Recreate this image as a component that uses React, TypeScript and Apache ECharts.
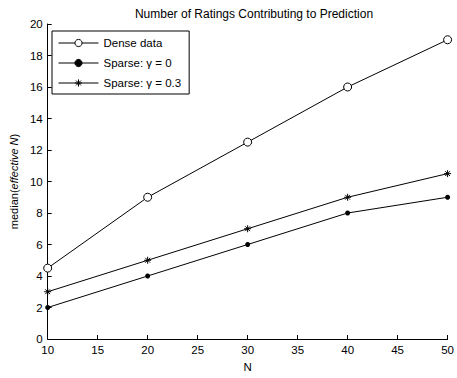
import React, { useEffect, useRef } from "react";
import * as echarts from "echarts";

const xValues = [10, 20, 30, 40, 50];
const denseData = [4.5, 9, 12.5, 16, 19];
const sparse0Data = [2, 4, 6, 8, 9];
const sparse03Data = [3, 5, 7, 9, 10.5];
const seriesNames = ["Dense data", "Sparse: γ = 0", "Sparse: γ = 0.3"];
const titleText = "Number of Ratings Contributing to Prediction";

const asterisk =
  "path://M5 0 L5 10 M0 5 L10 5 M1.6 1.6 L8.4 8.4 M8.4 1.6 L1.6 8.4";

export default function App() {
  const ref = useRef<HTMLDivElement>(null);
  useEffect(() => {
    if (!ref.current) return;
    const chart = echarts.init(ref.current, null, { renderer: "svg" });
    const font = "Liberation Sans, Arial, sans-serif";
    const pairs = (ys: number[]) => xValues.map((x, i) => [x, ys[i]]);
    chart.setOption({
      animation: false,
      backgroundColor: "#fff",
      textStyle: { fontFamily: font, color: "#000" },
      title: {
        text: titleText,
        left: 249,
        textAlign: "center",
        top: 3,
        textStyle: { fontSize: 12, fontWeight: "normal", color: "#000", fontFamily: font },
      },
      legend: {
        orient: "vertical",
        left: 52,
        top: 31,
        width: 138,
        padding: [6, 8, 5, 6],
        itemGap: 8,
        itemWidth: 40,
        itemHeight: 9,
        borderColor: "#000",
        borderWidth: 1,
        backgroundColor: "#fff",
        lineStyle: { width: 1 },
        itemStyle: { borderWidth: 1 },
        textStyle: { fontSize: 11.5, color: "#000", fontFamily: font },
        data: seriesNames,
      },
      grid: { left: 46, right: 4, top: 24, bottom: 33 },
      xAxis: {
        type: "value",
        min: 10,
        max: 50,
        interval: 5,
        name: "N",
        nameLocation: "middle",
        nameGap: 22,
        nameTextStyle: { fontSize: 11.5, color: "#000" },
        axisLine: { lineStyle: { color: "#000", width: 1 } },
        axisTick: { inside: true, length: 4, lineStyle: { color: "#000" } },
        axisLabel: { fontSize: 11.5, color: "#000", margin: 5, showMaxLabel: true },
        splitLine: { show: false },
      },
      yAxis: {
        type: "value",
        min: 0,
        max: 20,
        interval: 2,
        name: "{a|median(}{b|effective N}{a|)}",
        nameLocation: "middle",
        nameGap: 27,
        nameRotate: 90,
        nameTextStyle: {
          fontSize: 11,
          color: "#000",
          rich: {
            a: { fontSize: 11, color: "#000", fontFamily: font },
            b: { fontSize: 11, color: "#000", fontStyle: "italic", fontFamily: font },
          },
        },
        axisLine: { show: true, lineStyle: { color: "#000", width: 1 } },
        axisTick: { show: true, inside: true, length: 4, lineStyle: { color: "#000" } },
        axisLabel: { fontSize: 11.5, color: "#000", margin: 5 },
        splitLine: { show: false },
      },
      series: [
        {
          name: seriesNames[0],
          type: "line",
          data: pairs(denseData),
          symbol: "circle",
          symbolSize: 8,
          showAllSymbol: true,
          lineStyle: { color: "#000", width: 1 },
          itemStyle: { color: "#fff", borderColor: "#000", borderWidth: 1 },
          emphasis: { disabled: true },
        },
        {
          name: seriesNames[1],
          type: "line",
          data: pairs(sparse0Data),
          symbol: "circle",
          symbolSize: 5,
          lineStyle: { color: "#000", width: 1 },
          itemStyle: { color: "#000", borderColor: "#000", borderWidth: 0 },
          emphasis: { disabled: true },
        },
        {
          name: seriesNames[2],
          type: "line",
          data: pairs(sparse03Data),
          symbol: asterisk,
          symbolSize: 7,
          lineStyle: { color: "#000", width: 1 },
          itemStyle: { color: "#000", borderColor: "#000", borderWidth: 1 },
          emphasis: { disabled: true },
        },
      ],
    });
    return () => chart.dispose();
  }, []);
  return <div ref={ref} style={{ width: 457, height: 378, position: "absolute", left: 0, top: 0 }} />;
}
